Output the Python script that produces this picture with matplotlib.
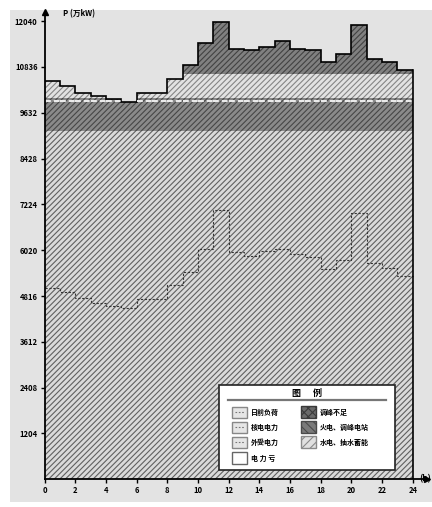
import matplotlib
matplotlib.use("Agg")
import matplotlib.pyplot as plt
from matplotlib.patches import Rectangle
from matplotlib.lines import Line2D
import numpy as np

plt.rcParams['font.family'] = ['Noto Sans CJK SC', 'DejaVu Sans']
plt.rcParams['hatch.linewidth'] = 0.8

# hourly data (万kW)
hours = np.arange(24)
load = [10470, 10340, 10150, 10060, 9990, 9910, 10155, 10155, 10515, 10885, 11455, 12015,
        11305, 11285, 11365, 11505, 11305, 11270, 10960, 11170, 11935, 11040, 10960, 10750]
inner = [5020, 4925, 4760, 4645, 4555, 4490, 4730, 4730, 5100, 5460, 6045, 7065,
         5960, 5870, 6000, 6065, 5915, 5845, 5520, 5755, 6985, 5695, 5540, 5345]

# layer limits, bottom to top
hydro_top = 9160
thermal_top = 10030
nuclear_line = 9940
import_top = 10650

yticks = [1204, 2408, 3612, 4816, 6020, 7224, 8428, 9632, 10836, 12040]
xticks = list(range(0, 25, 2))

legend_left = ['日前负荷', '核电电力', '外受电力', '电 力 亏']
legend_right = ['调峰不足', '火电、调峰电站', '水电、抽水蓄能']

BG = '#e3e3e3'
HATCH = '//////'

fig = plt.figure(figsize=(4.32, 5.07), dpi=100)
fig.patches.append(Rectangle((10 / 432, 5 / 507), 1, 492 / 507, transform=fig.transFigure,
                             facecolor=BG, edgecolor='none', zorder=-10))
ax = fig.add_axes([44.5 / 432, (507 - 479.3) / 507, 382 / 432, 467.3 / 507])
ax.set_facecolor(BG)

load_a = np.array(load, dtype=float)


def layer(lo, hi, face, hatch_col, hatch):
    bottom = np.minimum(lo, load_a)
    top = np.minimum(hi, load_a)
    ax.bar(hours, top - bottom, bottom=bottom, width=1.0, align='edge',
           facecolor=face, edgecolor=hatch_col, hatch=hatch, linewidth=0)


layer(0, hydro_top, '#dadada', '#606060', HATCH)
layer(hydro_top, thermal_top, '#8a8a8a', '#474747', HATCH)
layer(thermal_top, import_top, '#e2e2e2', '#858585', HATCH)
layer(import_top, 20000, '#808080', '#424242', HATCH)

# light dashed line in thermal band
for h, v in zip(hours, load):
    if v > nuclear_line:
        ax.plot([h, h + 1], [nuclear_line, nuclear_line], color='#eeeeee', lw=1.4,
                ls=(0, (3, 1.5)))

# load outline
edges = np.arange(25)
ax.stairs(load, edges, color='black', lw=1.2, baseline=None)
ax.plot([24, 24], [0, load[-1]], color='black', lw=1.2)
ax.stairs(inner, edges, color='#333333', lw=0.8, ls=(0, (2, 1.5)), baseline=None)

ax.set_xlim(0, 24.9)
ax.set_ylim(0, 12280)
for s in ['top', 'right']:
    ax.spines[s].set_visible(False)
for s in ['left', 'bottom']:
    ax.spines[s].set_linewidth(1.3)
ax.set_yticks(yticks)
ax.set_xticks(xticks)
ax.tick_params(direction='out', length=3, width=1, labelsize=5.5, pad=2)
for lab in ax.get_xticklabels() + ax.get_yticklabels():
    lab.set_fontweight('bold')
ax.plot([0], [1], marker='^', color='black', markersize=4, transform=ax.transAxes, clip_on=False)
ax.plot([1], [0], marker='>', color='black', markersize=4, transform=ax.transAxes, clip_on=False)
ax.text(1.2, 12230, 'P (万kW)', fontsize=5.5, fontweight='bold', va='center')
fig.text(419 / 432, 1 - 479 / 507, '(h)', fontsize=6, fontweight='bold', va='center')


# legend drawn by hand, positions in pixels of the axes
def pa(x, y):
    return (x - 44.5) / 382, (479.3 - y) / 467.3


def box(x0, y0, x1, y1, **kw):
    (ax0, ay1), (ax1, ay0) = pa(x0, y0), pa(x1, y1)
    r = Rectangle((ax0, ay0), ax1 - ax0, ay1 - ay0, transform=ax.transAxes, clip_on=False, **kw)
    ax.add_patch(r)


box(219, 385, 395, 470, facecolor='white', edgecolor='#222222', lw=1.2, zorder=5)
tx, ty = pa(307, 393)
ax.text(tx, ty, '图      例', transform=ax.transAxes, ha='center', va='center',
        fontsize=6.5, fontweight='bold', zorder=6)
lx0, ly = pa(228, 400)
lx1, _ = pa(386, 400)
ax.add_line(Line2D([lx0, lx1], [ly, ly], transform=ax.transAxes, color='#777777', lw=1.6, zorder=6))

rows = [412, 427, 442, 458]
for i, name in enumerate(legend_left):
    y = rows[i]
    if i < 3:
        box(232, y - 5.5, 247, y + 5.5, facecolor='#e6e6e6', edgecolor='#888888', lw=1, zorder=6)
        a, b = pa(235, y)
        c, _ = pa(244, y)
        ax.add_line(Line2D([a, c], [b, b], transform=ax.transAxes, color='#777777',
                           lw=0.8, ls=(0, (1.5, 1.5)), zorder=7))
    else:
        box(232, y - 6, 247, y + 6, facecolor='white', edgecolor='#666666', lw=1, zorder=6)
    a, b = pa(251, y)
    ax.text(a, b, name, transform=ax.transAxes, va='center', fontsize=5, fontweight='bold', zorder=7)

right_style = [('#6a6a6a', '#3a3a3a', 'xxxx'), ('#7a7a7a', '#4a4a4a', '\\\\\\\\'),
               ('#e0e0e0', '#8a8a8a', '////')]
for i, name in enumerate(legend_right):
    y = rows[i]
    fc, hc, ht = right_style[i]
    box(301, y - 6, 316, y + 6, facecolor=fc, edgecolor=hc, hatch=ht, lw=1, zorder=6)
    a, b = pa(320, y)
    ax.text(a, b, name, transform=ax.transAxes, va='center', fontsize=5, fontweight='bold', zorder=7)

fig.savefig('out.png', dpi=100)
